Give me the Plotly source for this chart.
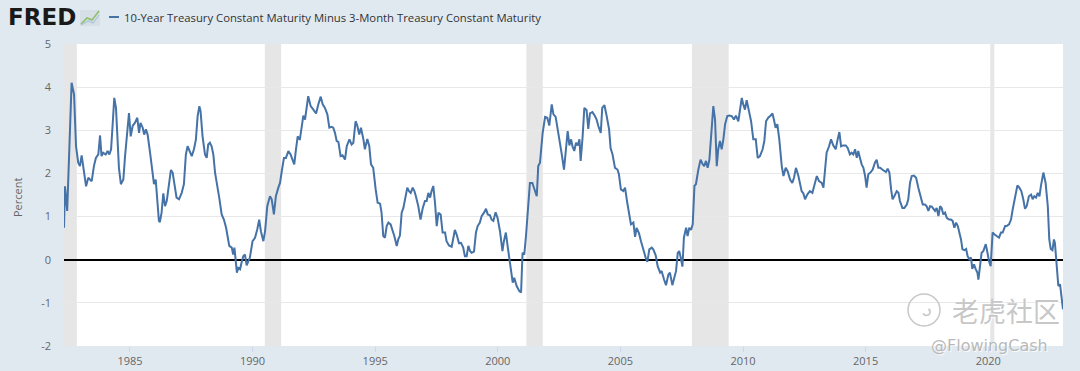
import plotly.graph_objects as go

series_name = "10-Year Treasury Constant Maturity Minus 3-Month Treasury Constant Maturity"

years = [
    1982.31, 1982.35, 1982.44, 1982.62, 1982.72, 1982.80, 1982.89, 1982.96, 1983.03, 1983.10,
    1983.21, 1983.30, 1983.44, 1983.53, 1983.61, 1983.71, 1983.78, 1983.84, 1983.91, 1984.01,
    1984.09, 1984.16, 1984.23, 1984.29, 1984.36, 1984.43, 1984.48, 1984.55, 1984.63, 1984.73,
    1984.80, 1984.89, 1984.96, 1985.03, 1985.11, 1985.20, 1985.30, 1985.37, 1985.43, 1985.52,
    1985.58, 1985.65, 1985.72, 1985.82, 1985.91, 1985.98, 1986.05, 1986.11, 1986.18, 1986.22,
    1986.29, 1986.36, 1986.43, 1986.50, 1986.56, 1986.67, 1986.74, 1986.81, 1986.90, 1987.00,
    1987.11, 1987.20, 1987.28, 1987.35, 1987.42, 1987.52, 1987.61, 1987.69, 1987.76, 1987.83,
    1987.88, 1987.96, 1988.06, 1988.13, 1988.19, 1988.26, 1988.33, 1988.40, 1988.47, 1988.56,
    1988.64, 1988.74, 1988.83, 1988.92, 1988.98, 1989.05, 1989.15, 1989.21, 1989.26, 1989.31,
    1989.36, 1989.42, 1989.49, 1989.55, 1989.62, 1989.69, 1989.76, 1989.83, 1989.89, 1990.00,
    1990.10, 1990.19, 1990.27, 1990.34, 1990.44, 1990.51, 1990.60, 1990.71, 1990.78, 1990.87,
    1990.95, 1991.05, 1991.12, 1991.19, 1991.28, 1991.36, 1991.46, 1991.55, 1991.63, 1991.70,
    1991.77, 1991.84, 1991.91,
    1991.93, 1992.07, 1992.14, 1992.27, 1992.37, 1992.48, 1992.59, 1992.68, 1992.78, 1992.86,
    1992.95, 1993.05, 1993.13, 1993.22, 1993.29, 1993.36, 1993.43, 1993.50, 1993.59, 1993.67,
    1993.77, 1993.84, 1993.95, 1994.04, 1994.11, 1994.20, 1994.27, 1994.35, 1994.42, 1994.52,
    1994.58, 1994.68, 1994.76, 1994.83, 1994.92, 1995.02, 1995.10, 1995.20, 1995.26, 1995.33,
    1995.40, 1995.47, 1995.54, 1995.63, 1995.71, 1995.78, 1995.88, 1995.94, 1996.01, 1996.08,
    1996.15, 1996.24, 1996.31, 1996.38, 1996.45, 1996.53, 1996.60, 1996.66, 1996.76, 1996.85,
    1996.94, 1997.03, 1997.10, 1997.17, 1997.24, 1997.30, 1997.37, 1997.44, 1997.51, 1997.58,
    1997.67, 1997.75, 1997.85, 1997.91, 1998.01, 1998.12, 1998.19, 1998.25, 1998.32, 1998.42,
    1998.50, 1998.59, 1998.66, 1998.73, 1998.80, 1998.87, 1998.93, 1999.03, 1999.11, 1999.18,
    1999.27, 1999.34, 1999.44, 1999.52, 1999.59, 1999.68, 1999.75, 1999.82, 1999.91, 1999.99,
    2000.09, 2000.19, 2000.25, 2000.33, 2000.40, 2000.47, 2000.54, 2000.61, 2000.67, 2000.77,
    2000.88, 2000.95, 2001.01, 2001.08, 2001.15, 2001.23, 2001.31, 2001.41, 2001.52, 2001.59,
    2001.65,
    2001.72, 2001.83, 2001.93, 2002.02, 2002.10, 2002.20, 2002.27, 2002.36, 2002.44, 2002.51,
    2002.61, 2002.70, 2002.78, 2002.85, 2002.92, 2002.99, 2003.05, 2003.12, 2003.19, 2003.26,
    2003.33, 2003.38, 2003.46, 2003.53, 2003.62, 2003.69, 2003.76, 2003.86, 2003.96, 2004.03,
    2004.10, 2004.20, 2004.26, 2004.35, 2004.44, 2004.54, 2004.60, 2004.68, 2004.78, 2004.88,
    2004.94, 2005.02, 2005.12, 2005.19, 2005.28, 2005.36, 2005.43, 2005.53, 2005.60, 2005.66,
    2005.76, 2005.84, 2005.94, 2006.03, 2006.10, 2006.18, 2006.28, 2006.34, 2006.44, 2006.52,
    2006.62, 2006.68, 2006.78, 2006.86, 2006.96, 2007.02, 2007.12, 2007.20, 2007.27, 2007.34,
    2007.40, 2007.46, 2007.53, 2007.59, 2007.68, 2007.74, 2007.81, 2007.88, 2007.95, 2008.02,
    2008.08, 2008.18, 2008.27, 2008.36, 2008.42, 2008.49, 2008.56, 2008.63, 2008.71, 2008.79,
    2008.86, 2008.93, 2008.99, 2009.06, 2009.13, 2009.20, 2009.27, 2009.36, 2009.44, 2009.54,
    2009.63, 2009.71, 2009.81, 2009.88, 2009.95, 2010.01, 2010.08, 2010.15, 2010.24, 2010.33,
    2010.42, 2010.52, 2010.60, 2010.69, 2010.80, 2010.87, 2010.94, 2011.03, 2011.13, 2011.20,
    2011.26, 2011.33, 2011.40, 2011.48, 2011.58, 2011.65, 2011.74, 2011.82, 2011.92, 2012.01,
    2012.08, 2012.16, 2012.26,
    2012.33, 2012.39, 2012.46, 2012.53, 2012.62, 2012.73, 2012.83, 2012.91, 2013.01, 2013.10,
    2013.21, 2013.28, 2013.34, 2013.41, 2013.51, 2013.59, 2013.68, 2013.78, 2013.86, 2013.93,
    2014.00, 2014.09, 2014.19, 2014.27, 2014.36, 2014.43, 2014.50, 2014.57, 2014.64, 2014.70,
    2014.77, 2014.84, 2014.91, 2014.98, 2015.04, 2015.11, 2015.21, 2015.29, 2015.38, 2015.45,
    2015.52, 2015.59, 2015.68, 2015.76, 2015.83, 2015.90, 2015.97, 2016.04, 2016.10, 2016.17,
    2016.27, 2016.34, 2016.40, 2016.50, 2016.58, 2016.68, 2016.74, 2016.81, 2016.88, 2016.97,
    2017.06, 2017.15, 2017.25, 2017.33, 2017.42, 2017.49, 2017.56, 2017.63, 2017.70, 2017.76,
    2017.83, 2017.90, 2017.97, 2018.04, 2018.10, 2018.17, 2018.24, 2018.31, 2018.40, 2018.48,
    2018.55, 2018.62, 2018.69, 2018.76, 2018.82, 2018.89, 2018.95, 2019.03, 2019.10, 2019.16,
    2019.23, 2019.30, 2019.35, 2019.42, 2019.49, 2019.56, 2019.60, 2019.67, 2019.73, 2019.80,
    2019.90, 2019.97, 2020.03, 2020.10, 2020.18, 2020.25, 2020.35, 2020.44, 2020.52, 2020.59,
    2020.69, 2020.75, 2020.85, 2020.93, 2021.00, 2021.09, 2021.19, 2021.27, 2021.35, 2021.43,
    2021.50, 2021.57, 2021.66, 2021.75, 2021.81, 2021.88, 2021.95, 2022.02, 2022.09, 2022.15,
    2022.25, 2022.34, 2022.43, 2022.49, 2022.55, 2022.62, 2022.68, 2022.72, 2022.79, 2022.86,
    2022.93, 2023.00, 2023.05,
]

spread = [
    0.74, 1.70, 1.13, 4.10, 3.83, 2.63, 2.25, 2.17, 2.42, 2.13,
    1.70, 1.90, 1.82, 2.17, 2.36, 2.44, 2.88, 2.40, 2.48, 2.44,
    2.52, 2.44, 2.56, 3.10, 3.75, 3.52, 2.86, 2.13, 1.75, 1.86,
    2.40, 3.02, 3.40, 2.86, 3.10, 3.17, 3.29, 2.94, 3.17, 3.06,
    2.90, 3.02, 2.90, 2.48, 2.00, 1.75, 1.86, 1.32, 0.90, 0.87,
    1.09, 1.54, 1.24, 1.36, 1.63, 2.08, 2.02, 1.78, 1.44, 1.40,
    1.55, 1.75, 2.44, 2.63, 2.52, 2.40, 2.56, 2.79, 3.33, 3.56,
    3.44, 2.86, 2.44, 2.36, 2.67, 2.71, 2.63, 2.44, 2.02, 1.75,
    1.44, 1.05, 0.93, 0.74, 0.55, 0.32, 0.28, 0.12, 0.28, -0.07,
    -0.30, -0.19, -0.22, -0.07, 0.08, 0.12, -0.13, -0.03, 0.05, 0.43,
    0.51, 0.70, 0.93, 0.66, 0.43, 0.66, 1.24, 1.47, 1.40, 1.05,
    1.47, 1.67, 1.78, 2.05, 2.36, 2.36, 2.52, 2.44, 2.32, 2.21,
    2.56, 2.86, 2.79,
    2.79, 3.34, 3.25, 3.79, 3.56, 3.48, 3.39, 3.60, 3.78, 3.60,
    3.52, 3.37, 3.06, 3.08, 3.06, 2.94, 2.75, 2.73, 2.40, 2.42,
    2.32, 2.63, 2.79, 2.67, 2.71, 3.21, 3.11, 2.90, 3.06, 2.79,
    2.56, 2.80, 2.63, 2.21, 2.13, 1.63, 1.32, 1.30, 1.09, 0.55,
    0.51, 0.78, 0.86, 0.82, 0.70, 0.55, 0.32, 0.47, 0.56, 1.09,
    1.20, 1.47, 1.67, 1.59, 1.55, 1.67, 1.59, 1.47, 1.24, 0.93,
    1.20, 1.36, 1.36, 1.55, 1.44, 1.59, 1.71, 1.32, 0.78, 1.09,
    1.05, 0.63, 0.63, 0.43, 0.33, 0.30, 0.47, 0.69, 0.59, 0.38,
    0.39, 0.28, 0.08, 0.08, 0.32, 0.20, 0.16, 0.19, 0.63, 0.78,
    0.86, 1.01, 1.09, 1.18, 1.05, 1.03, 0.93, 0.90, 1.10, 0.97,
    0.66, 0.20, 0.43, 0.63, 0.32, 0.00, -0.30, -0.53, -0.42, -0.61,
    -0.73, -0.76, 0.16, 0.12, 0.55, 1.09, 1.78, 1.78, 1.55, 1.47,
    2.17,
    2.25, 2.94, 3.31, 3.29, 3.11, 3.60, 3.37, 3.31, 3.08, 2.79,
    2.44, 2.09, 2.56, 2.98, 2.65, 2.79, 2.62, 2.52, 2.71, 2.65,
    2.79, 2.29, 2.86, 3.52, 3.47, 3.03, 3.39, 3.42, 3.33, 3.25,
    3.10, 2.94, 3.52, 3.58, 3.33, 3.02, 2.59, 2.44, 2.13, 2.09,
    1.98, 1.63, 1.59, 1.67, 1.32, 1.01, 0.82, 0.86, 0.53, 0.74,
    0.61, 0.43, 0.20, 0.05, -0.05, 0.24, 0.28, 0.24, 0.10, -0.15,
    -0.30, -0.26, -0.46, -0.59, -0.34, -0.30, -0.59, -0.38, -0.26, 0.16,
    0.20, 0.05, -0.16, 0.51, 0.74, 0.55, 0.74, 0.69, 0.82, 1.71,
    1.75, 2.09, 2.32, 2.21, 2.17, 2.29, 2.13, 2.32, 2.86, 3.56,
    3.25, 2.17, 2.56, 2.75, 2.56, 2.79, 3.14, 3.33, 3.34, 3.33,
    3.25, 3.34, 3.21, 3.47, 3.75, 3.60, 3.48, 3.70, 3.44, 3.21,
    2.79, 2.79, 2.36, 2.40, 2.56, 2.75, 3.21, 3.29, 3.34, 3.39,
    3.25, 3.06, 3.14, 2.79, 2.17, 1.94, 2.13, 2.05, 1.86, 1.78,
    1.90, 2.13, 1.94,
    1.70, 1.59, 1.54, 1.40, 1.51, 1.59, 1.55, 1.71, 1.94, 1.82,
    1.78, 1.67, 2.09, 2.48, 2.63, 2.79, 2.65, 2.56, 2.79, 2.96,
    2.63, 2.65, 2.65, 2.59, 2.44, 2.48, 2.44, 2.56, 2.36, 2.52,
    2.36, 2.21, 2.13, 1.94, 1.67, 1.98, 2.03, 2.09, 2.25, 2.32,
    2.13, 2.13, 2.09, 2.05, 2.03, 2.11, 2.02, 1.63, 1.40, 1.47,
    1.59, 1.55, 1.36, 1.20, 1.20, 1.28, 1.40, 1.78, 1.94, 1.95,
    1.90, 1.67, 1.47, 1.28, 1.28, 1.24, 1.13, 1.24, 1.23, 1.17,
    1.13, 1.20, 1.01, 1.24, 1.20, 1.05, 1.09, 0.97, 0.93, 0.93,
    0.90, 0.74, 0.86, 0.78, 0.63, 0.47, 0.24, 0.22, 0.25, 0.08,
    0.01, 0.05, -0.21, -0.11, -0.22, -0.30, -0.46, -0.15, 0.16, 0.20,
    0.36, 0.16, -0.03, -0.15, 0.63, 0.59, 0.55, 0.51, 0.63, 0.63,
    0.78, 0.78, 0.82, 0.93, 1.17, 1.47, 1.72, 1.67, 1.59, 1.40,
    1.18, 1.24, 1.47, 1.51, 1.40, 1.47, 1.44, 1.55, 1.47, 1.71,
    2.02, 1.78, 1.24, 0.47, 0.25, 0.22, 0.47, 0.39, -0.15, -0.61,
    -0.57, -0.92, -1.15,
]

recession_start = ["1981-07", "1990-07", "2001-03", "2007-12", "2020-02"]
recession_end = ["1982-11", "1991-03", "2001-11", "2009-06", "2020-04"]

x_tick_years = [1985, 1990, 1995, 2000, 2005, 2010, 2015, 2020]
x_tick_labels = ["1985", "1990", "1995", "2000", "2005", "2010", "2015", "2020"]
y_tick_values = [-2, -1, 0, 1, 2, 3, 4, 5]
y_tick_labels = ["-2", "-1", "0", "1", "2", "3", "4", "5"]

# ---- layout geometry ----
W, H = 1080, 371
ML, MR, MT, MB = 64, 17, 44, 25
PW, PH = W - ML - MR, H - MT - MB


def px(xp):
    return (xp - ML) / PW


def py(yp):
    return (H - MB - yp) / PH


def dec_year(s):
    y, m = s.split("-")
    return int(y) + (int(m) - 1) / 12.0


LINE = "#4572a7"
BG = "#e1e9f0"
FONT = "Open Sans"
WM = "rgba(196,196,196,0.95)"

fig = go.Figure()
fig.add_trace(go.Scatter(
    x=years, y=spread, mode="lines", name=series_name,
    line=dict(color=LINE, width=2), showlegend=False,
))

shapes = []
for s, e in zip(recession_start, recession_end):
    shapes.append(dict(type="rect", xref="x", yref="paper",
                       x0=dec_year(s), x1=dec_year(e), y0=0, y1=1,
                       fillcolor="#e6e6e6", line=dict(width=0), layer="below"))

# legend swatch
shapes.append(dict(type="line", xref="paper", yref="paper",
                   x0=px(109), x1=px(119), y0=py(17), y1=py(17),
                   line=dict(color=LINE, width=2)))
# small FRED chart icon
shapes.append(dict(type="rect", xref="paper", yref="paper",
                   x0=px(80), x1=px(100), y0=py(26), y1=py(10),
                   fillcolor="#d6dfe6", line=dict(width=0)))
shapes.append(dict(type="path", xref="paper", yref="paper",
                   path="M {a},{b} L {c},{d} L {e},{f} L {g},{h}".format(
                       a=px(81), b=py(24), c=px(87), d=py(18), e=px(92), f=py(20), g=px(99), h=py(11)),
                   line=dict(color="#8fbf6a", width=1.5)))
shapes.append(dict(type="path", xref="paper", yref="paper",
                   path="M {a},{b} L {c},{d} L {e},{f} L {g},{h}".format(
                       a=px(81), b=py(25), c=px(88), d=py(21), e=px(93), f=py(23), g=px(99), h=py(15)),
                   line=dict(color="#a9c4dc", width=1.2)))
# watermark circle logo
shapes.append(dict(type="circle", xref="paper", yref="paper",
                   x0=px(908), x1=px(940), y0=py(326), y1=py(294),
                   line=dict(color=WM, width=1.5)))

annotations = [
    dict(text="<b>FRED</b>", xref="paper", yref="paper", x=px(6), y=py(17),
         xanchor="left", yanchor="middle", showarrow=False,
         font=dict(family="DejaVu Sans", size=23, color="#1a1a1a")),
    dict(text=series_name, xref="paper", yref="paper", x=px(122), y=py(17),
         xanchor="left", yanchor="middle", showarrow=False,
         font=dict(family=FONT, size=11.3, color="#333333")),
    dict(text="Percent", xref="paper", yref="paper", x=px(18), y=py(198),
         xanchor="center", yanchor="middle", textangle=-90, showarrow=False,
         font=dict(family=FONT, size=11, color="#666666")),
    dict(text="ᴗ", xref="paper", yref="paper", x=px(924), y=py(310),
         xanchor="center", yanchor="middle", showarrow=False, textangle=-40,
         font=dict(family="DejaVu Sans", size=18, color=WM)),
    dict(text="老虎社区", xref="paper", yref="paper", x=px(950), y=py(310),
         xanchor="left", yanchor="middle", showarrow=False,
         font=dict(family="Noto Sans CJK SC", size=27, color=WM,
                   shadow="1px 1px 1px #ffffff")),
    dict(text="@FlowingCash", xref="paper", yref="paper", x=px(929), y=py(345),
         xanchor="left", yanchor="middle", showarrow=False,
         font=dict(family="DejaVu Sans", size=16, color="rgba(180,180,180,0.95)",
                   shadow="1px 1px 1px #ffffff")),
]

fig.update_layout(
    template="none",
    width=W, height=H, autosize=False,
    margin=dict(l=ML, r=MR, t=MT, b=MB, pad=0),
    paper_bgcolor=BG, plot_bgcolor="#ffffff",
    font=dict(family=FONT, size=11, color="#666666"),
    shapes=shapes, annotations=annotations, showlegend=False,
    xaxis=dict(range=[years[0], years[-1]], tickvals=x_tick_years, ticktext=x_tick_labels,
               showgrid=False, zeroline=False, ticks="outside", ticklen=5,
               tickcolor="#ccd6eb", tickfont=dict(family=FONT, size=11, color="#666666"),
               showline=False, fixedrange=True, automargin=False),
    yaxis=dict(range=[-2, 5], tickvals=y_tick_values, ticktext=y_tick_labels,
               showgrid=True, gridcolor="#e8e8e8", gridwidth=1,
               zeroline=True, zerolinecolor="#000000", zerolinewidth=2,
               ticks="", ticklabelstandoff=12,
               tickfont=dict(family=FONT, size=11, color="#666666"),
               showline=False, fixedrange=True, automargin=False),
)

fig.write_html(
    "out.html",
    config={"displayModeBar": False},
    post_script="document.body.style.margin='0';document.body.style.background='%s';" % BG,
)
